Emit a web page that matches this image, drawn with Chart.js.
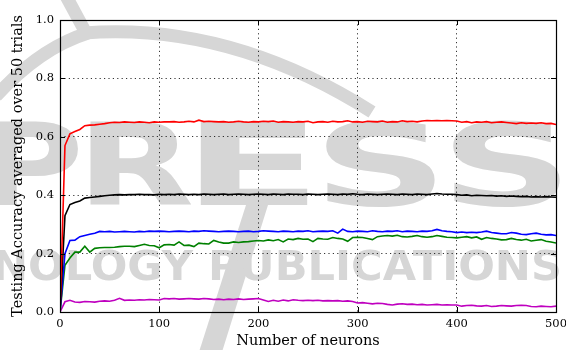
<!DOCTYPE html>
<html>
<head>
<meta charset="utf-8">
<script src="https://cdn.jsdelivr.net/npm/chart.js@4.4.0/dist/chart.umd.min.js"></script>
<style>
  html, body { margin: 0; padding: 0; background: #fff; }
  #wrap { width: 566px; height: 350px; position: relative; }
</style>
</head>
<body>
<div id="wrap"><canvas id="c" width="566" height="350"></canvas></div>
<script>
// x positions: number of neurons
const neurons = [0,5,10,15,20,25,30,35,40,45,50,55,60,65,70,75,80,85,90,95,
100,105,110,115,120,125,130,135,140,145,150,155,160,165,170,175,180,185,190,195,
200,205,210,215,220,225,230,235,240,245,250,255,260,265,270,275,280,285,290,295,
300,305,310,315,320,325,330,335,340,345,350,355,360,365,370,375,380,385,390,395,
400,405,410,415,420,425,430,435,440,445,450,455,460,465,470,475,480,485,490,495,500];

const redSeries = [0,0.57,0.61,0.618,0.625,0.638,0.640,0.641,0.643,0.645,0.648,0.650,0.649,0.651,0.650,0.649,0.651,0.650,0.648,0.651,
0.650,0.651,0.651,0.652,0.650,0.651,0.653,0.651,0.657,0.652,0.653,0.652,0.651,0.652,0.650,0.651,0.653,0.651,0.650,0.652,
0.651,0.653,0.652,0.654,0.650,0.652,0.651,0.650,0.652,0.651,0.653,0.648,0.651,0.652,0.650,0.653,0.651,0.652,0.655,0.651,
0.652,0.650,0.653,0.652,0.651,0.654,0.650,0.652,0.651,0.655,0.652,0.653,0.651,0.654,0.656,0.655,0.656,0.655,0.656,0.655,
0.654,0.650,0.652,0.648,0.651,0.650,0.652,0.648,0.650,0.651,0.649,0.647,0.645,0.648,0.646,0.647,0.646,0.648,0.645,0.646,0.642];

const blackSeries = [0,0.33,0.368,0.375,0.380,0.390,0.392,0.394,0.396,0.398,0.400,0.401,0.402,0.401,0.402,0.402,0.403,0.402,0.402,0.401,
0.403,0.402,0.403,0.402,0.404,0.403,0.402,0.403,0.402,0.404,0.403,0.402,0.403,0.404,0.402,0.403,0.404,0.403,0.402,0.403,
0.404,0.403,0.402,0.404,0.403,0.402,0.404,0.403,0.403,0.402,0.404,0.403,0.402,0.403,0.404,0.403,0.402,0.404,0.403,0.405,
0.403,0.402,0.404,0.403,0.402,0.403,0.404,0.403,0.402,0.404,0.403,0.402,0.404,0.403,0.402,0.404,0.406,0.404,0.403,0.403,
0.402,0.400,0.401,0.398,0.400,0.399,0.398,0.399,0.397,0.398,0.396,0.397,0.396,0.395,0.396,0.394,0.395,0.394,0.395,0.394,0.393];

const blueSeries = [0,0.20,0.245,0.246,0.258,0.262,0.266,0.270,0.276,0.275,0.276,0.274,0.275,0.276,0.275,0.274,0.276,0.275,0.277,0.276,
0.277,0.276,0.275,0.276,0.277,0.276,0.275,0.277,0.276,0.278,0.277,0.276,0.275,0.276,0.277,0.276,0.275,0.276,0.277,0.275,
0.276,0.278,0.277,0.276,0.275,0.277,0.276,0.275,0.277,0.276,0.278,0.275,0.276,0.277,0.276,0.278,0.270,0.284,0.276,0.275,
0.277,0.276,0.275,0.278,0.276,0.275,0.277,0.276,0.278,0.275,0.277,0.276,0.275,0.277,0.276,0.278,0.283,0.278,0.276,0.275,
0.272,0.274,0.272,0.273,0.272,0.274,0.277,0.272,0.270,0.268,0.268,0.272,0.270,0.266,0.265,0.268,0.270,0.266,0.264,0.265,0.262];

const greenSeries = [0,0.16,0.185,0.205,0.205,0.225,0.205,0.218,0.220,0.221,0.221,0.222,0.224,0.225,0.225,0.224,0.228,0.232,0.228,0.227,
0.220,0.230,0.231,0.229,0.240,0.228,0.229,0.224,0.236,0.234,0.233,0.245,0.240,0.236,0.236,0.240,0.238,0.240,0.241,0.243,
0.245,0.243,0.247,0.244,0.248,0.240,0.250,0.248,0.252,0.249,0.250,0.241,0.252,0.250,0.249,0.255,0.252,0.250,0.242,0.255,
0.256,0.255,0.252,0.248,0.258,0.260,0.262,0.260,0.263,0.258,0.257,0.259,0.262,0.258,0.256,0.258,0.262,0.259,0.256,0.255,
0.254,0.256,0.258,0.254,0.257,0.249,0.255,0.252,0.250,0.247,0.248,0.252,0.248,0.246,0.249,0.243,0.246,0.248,0.242,0.240,0.236];

const magentaSeries = [0,0.035,0.040,0.034,0.033,0.036,0.035,0.034,0.037,0.038,0.037,0.040,0.047,0.040,0.041,0.040,0.042,0.041,0.043,0.042,
0.041,0.046,0.045,0.046,0.044,0.045,0.046,0.045,0.044,0.046,0.045,0.043,0.044,0.042,0.044,0.043,0.045,0.043,0.044,0.045,
0.046,0.041,0.036,0.040,0.037,0.041,0.038,0.042,0.040,0.039,0.040,0.039,0.040,0.038,0.039,0.038,0.039,0.037,0.038,0.036,
0.031,0.032,0.030,0.028,0.030,0.029,0.026,0.024,0.027,0.028,0.026,0.027,0.025,0.026,0.024,0.025,0.026,0.024,0.025,0.024,
0.024,0.020,0.022,0.023,0.021,0.020,0.022,0.019,0.020,0.022,0.021,0.020,0.022,0.023,0.022,0.019,0.018,0.020,0.019,0.018,0.020];

const xTicks = [0, 100, 200, 300, 400, 500];
const yTicks = [0.0, 0.2, 0.4, 0.6, 0.8, 1.0];
const xTitle = 'Number of neurons';
const yTitle = 'Testing Accuracy averaged over 50 trials';
const watermarkBig = ['P', 'R', 'E', 'S', 'S'];
const watermarkSmall = 'TECHNOLOGY PUBLICATIONS';

const seriesList = [
  { data: redSeries, color: '#ff0000' },
  { data: blackSeries, color: '#000000' },
  { data: blueSeries, color: '#0000ff' },
  { data: greenSeries, color: '#008000' },
  { data: magentaSeries, color: '#bf00bf' }
];

const wmColor = '#d6d6d6';
const watermark = {
  id: 'watermark',
  beforeDraw(chart) {
    const ctx = chart.ctx;
    ctx.save();
    ctx.fillStyle = wmColor;
    ctx.strokeStyle = wmColor;
    // swoosh arcs
    ctx.lineWidth = 13;
    ctx.lineCap = 'butt';
    ctx.beginPath(); ctx.moveTo(66, -4); ctx.lineTo(86, 33); ctx.stroke();
    ctx.beginPath(); ctx.moveTo(84, 33); ctx.quadraticCurveTo(230, 22, 372, 112); ctx.stroke();
    ctx.beginPath(); ctx.moveTo(88, 33); ctx.quadraticCurveTo(40, 48, -4, 96); ctx.stroke();
    // slash
    ctx.beginPath();
    ctx.moveTo(246, 205); ctx.lineTo(268, 205); ctx.lineTo(222, 352); ctx.lineTo(199, 352);
    ctx.closePath(); ctx.fill();
    // big letters
    const boxes = [[-12, 78], [90, 192], [200, 308], [326, 435], [453, 560]];
    ctx.font = 'bold 114px "DejaVu Sans"';
    ctx.textBaseline = 'alphabetic';
    ctx.textAlign = 'left';
    watermarkBig.forEach((ch, i) => {
      const [x0, x1] = boxes[i];
      const m = ctx.measureText(ch);
      const w = m.actualBoundingBoxRight + m.actualBoundingBoxLeft;
      ctx.save();
      ctx.translate(x0, 205);
      ctx.scale((x1 - x0) / w, 1);
      ctx.fillText(ch, m.actualBoundingBoxLeft, 0);
      ctx.restore();
    });
    // small line
    ctx.font = 'bold 40px "DejaVu Sans"';
    const wPub = ctx.measureText('PUBLICATIONS').width;
    ctx.save();
    ctx.translate(562, 280);
    ctx.scale(354 / wPub, 1);
    ctx.textAlign = 'right';
    ctx.fillText(watermarkSmall, 0, 0);
    ctx.restore();
    ctx.restore();
  }
};

const frameTicks = {
  id: 'frameTicks',
  afterDraw(chart) {
    const { ctx, chartArea: a, scales } = chart;
    ctx.save();
    ctx.strokeStyle = '#000';
    ctx.lineWidth = 1;
    ctx.beginPath();
    const L = 5;
    xTicks.forEach(v => {
      const px = Math.round(scales.x.getPixelForValue(v)) + 0.5;
      ctx.moveTo(px, a.bottom); ctx.lineTo(px, a.bottom - L);
      ctx.moveTo(px, a.top); ctx.lineTo(px, a.top + L);
    });
    yTicks.forEach(v => {
      const py = Math.round(scales.y.getPixelForValue(v)) + 0.5;
      ctx.moveTo(a.left, py); ctx.lineTo(a.left + L, py);
      ctx.moveTo(a.right, py); ctx.lineTo(a.right - L, py);
    });
    ctx.stroke();
    ctx.lineWidth = 1.2;
    ctx.strokeRect(Math.round(a.left) + 0.5, Math.round(a.top) + 0.5,
      Math.round(a.right - a.left), Math.round(a.bottom - a.top));
    ctx.restore();
  }
};

new Chart(document.getElementById('c'), {
  type: 'line',
  data: {
    datasets: seriesList.map(s => ({
      data: neurons.map((n, i) => ({ x: n, y: s.data[i] })),
      borderColor: s.color,
      borderWidth: 1.6,
      pointRadius: 0,
      fill: false,
      tension: 0
    }))
  },
  options: {
    responsive: false,
    animation: false,
    devicePixelRatio: 1,
    layout: { padding: { top: 20, right: 10, left: 0, bottom: 0 } },
    plugins: { legend: { display: false }, tooltip: { enabled: false } },
    scales: {
      x: {
        type: 'linear',
        min: 0, max: 500,
        afterBuildTicks(scale) { scale.ticks = xTicks.map(v => ({ value: v })); },
        afterFit(scale) { scale.height = 38; scale.paddingLeft = 0; scale.paddingRight = 0; },
        ticks: {
          padding: 5,
          color: '#000',
          font: { family: 'DejaVu Serif', size: 11.5 },
          maxRotation: 0,
          callback: v => String(v)
        },
        grid: { color: '#000', lineWidth: 0.8, drawTicks: false },
        border: { display: false, dash: [1.2, 3.2] },
        title: {
          display: true, text: xTitle, color: '#000',
          font: { family: 'DejaVu Serif', size: 14.5 },
          padding: { top: 0, bottom: 0 }
        }
      },
      y: {
        type: 'linear',
        min: 0, max: 1,
        afterBuildTicks(scale) { scale.ticks = yTicks.map(v => ({ value: v })); },
        afterFit(scale) { scale.width = 60; },
        ticks: {
          padding: 6,
          color: '#000',
          font: { family: 'DejaVu Serif', size: 11.5 },
          callback: v => Number(v).toFixed(1)
        },
        grid: { color: '#000', lineWidth: 0.8, drawTicks: false },
        border: { display: false, dash: [1.2, 3.2] },
        title: {
          display: true, text: yTitle, color: '#000',
          font: { family: 'DejaVu Serif', size: 14.5 },
          padding: { top: 10, bottom: 0 }
        }
      }
    }
  },
  plugins: [watermark, frameTicks]
});
</script>
</body>
</html>
